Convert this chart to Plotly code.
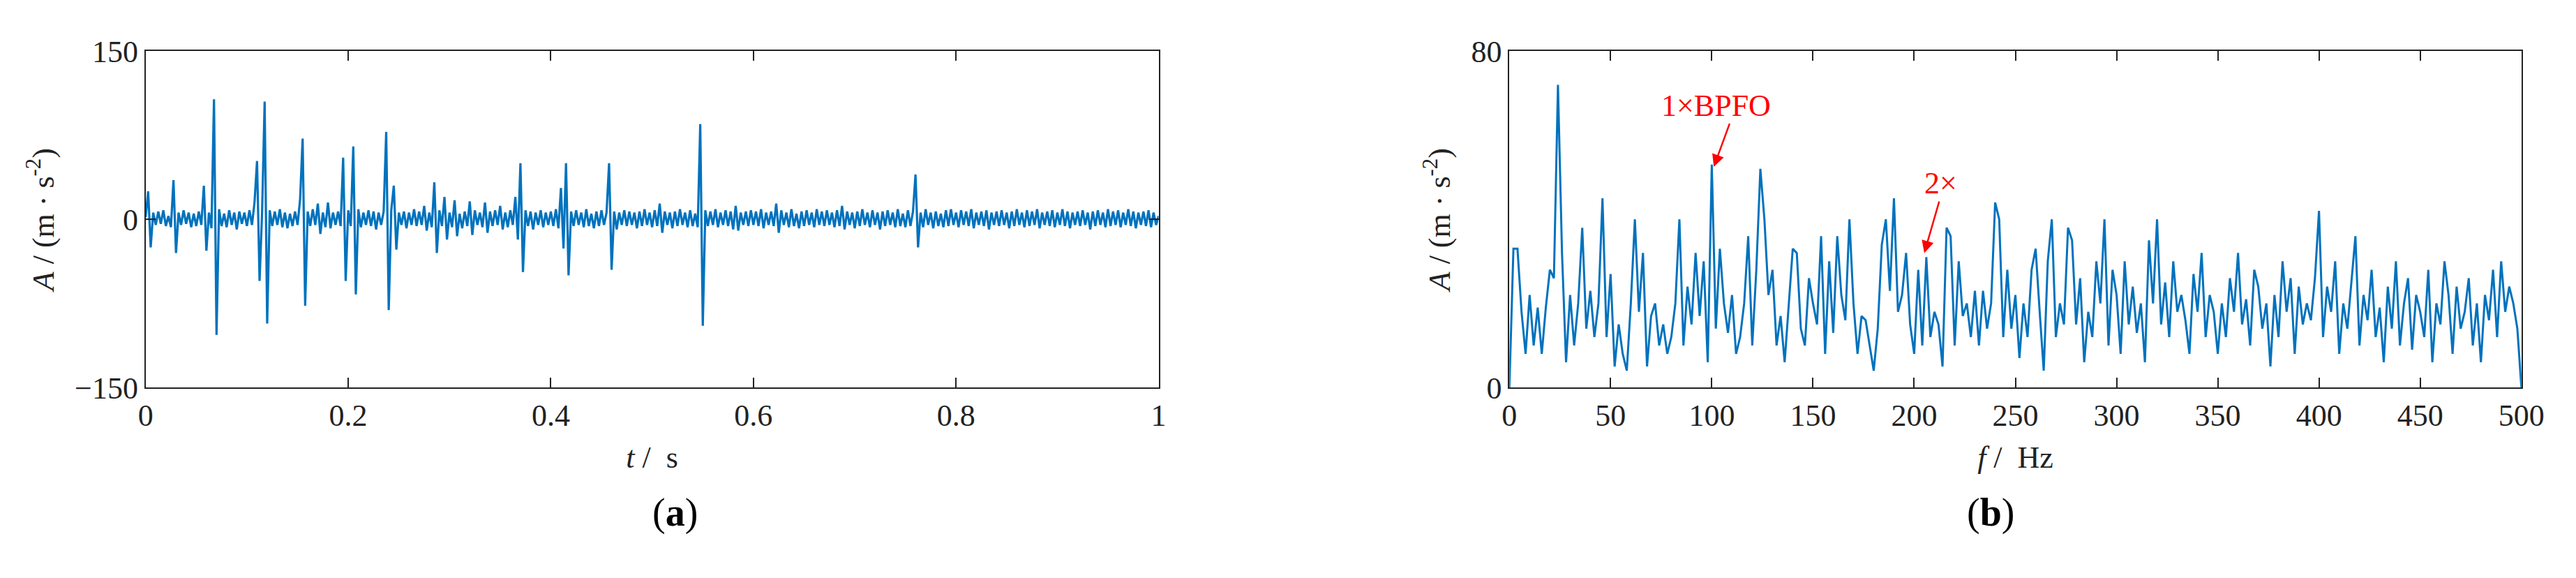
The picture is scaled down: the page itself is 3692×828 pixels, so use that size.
import numpy as np
import plotly.graph_objects as go

# (a) time-domain vibration signal, sampled every 2.5 ms
time_step = 0.0025
accel = [
    2, 25, -25, 6, -5, 7, -4, 8, -6, 3, -7, 35, -30, 6, -5, 8, -4, 6, -7, 5,
    -6, 7, -5, 30, -28, 6, -8, 107, -103, 9, -6, 5, -7, 8, -5, 6, -9, 7, -4, 6,
    -6, 8, -5, 15, 52, -55, 7, 105, -93, 8, -6, 7, -5, 9, -7, 6, -8, 5, -6, 7,
    -5, 18, 72, -77, 7, -6, 9, -5, 14, -13, 6, -7, 15, -8, 6, -5, 7, -6, 55, -55,
    8, -6, 65, -67, 9, -7, 6, -5, 8, -6, 7, -9, 6, -5, 7, 78, -81, 8, 30, -27,
    6, -5, 7, -8, 6, -5, 9, -6, 7, -5, 12, -10, 6, -7, 33, -30, 8, -6, 20, -18,
    6, -7, 17, -15, 5, -8, 7, -6, 16, -14, 8, -5, 6, -7, 15, -12, 7, -6, 8, -5,
    12, -9, 6, -7, 8, -5, 20, -18, 50, -47, 8, -6, 7, -9, 6, -5, 8, -7, 6, -5,
    7, -6, 9, -8, 28, -26, 50, -50, 7, -6, 8, -5, 6, -7, 9, -6, 5, -8, 7, -6,
    8, -5, 6, 50, -45, 7, -9, 6, -5, 8, -6, 7, -5, 6, -8, 7, -6, 9, -5, 6,
    -7, 8, -6, 14, -12, 7, -5, 6, -8, 7, -6, 9, -5, 6, -7, 8, -6, 5, -7, 85,
    -95, 8, -6, 7, -5, 9, -7, 6, -5, 8, -6, 7, -9, 12, -10, 6, -5, 7, -6, 8,
    -5, 7, -6, 9, -8, 6, -5, 7, -6, 14, -12, 8, -5, 6, -7, 9, -6, 5, -8, 7,
    -6, 8, -5, 6, -7, 9, -5, 7, -6, 8, -5, 6, -7, 8, -6, 12, -9, 7, -5, 6,
    -8, 7, -6, 9, -5, 6, -7, 8, -5, 6, -9, 7, -6, 8, -5, 6, -7, 9, -6, 5,
    -7, 8, -6, 7, 40, -25, 6, -7, 9, -5, 6, -8, 7, -6, 5, -7, 8, -6, 9, -5,
    6, -7, 8, -5, 7, -6, 9, -8, 6, -5, 7, -6, 8, -9, 6, -5, 7, -6, 8, -5,
    6, -8, 7, -6, 9, -5, 6, -7, 8, -6, 7, -5, 9, -8, 6, -5, 7, -6, 8, -7,
    6, -5, 9, -6, 7, -8, 6, -5, 7, -6, 8, -5, 6, -9, 7, -6, 8, -5, 6, -7,
    9, -6, 7, -5, 8, -7, 6, -5, 9, -6, 7, -8, 6, -5, 7, -6, 8, -7, 6, -5,
    3,
]

# (b) envelope spectrum, 2 Hz bins
freq_step = 2
spectrum = [
    0, 33, 33, 18, 8, 22, 10, 19, 8, 19, 28, 26, 72, 32, 6, 22, 10, 20, 38, 14, 23, 12, 20, 45, 12,
    27, 5, 15, 8, 4, 20, 40, 18, 32, 5, 17, 20, 10, 15, 8, 12, 20, 40, 10, 24, 15, 32, 17, 30, 6,
    53, 14, 33, 20, 13, 22, 8, 12, 20, 36, 10, 28, 52, 40, 22, 28, 10, 17, 6, 20, 33, 32, 14, 10, 26,
    20, 15, 36, 8, 30, 13, 36, 22, 16, 40, 20, 8, 17, 16, 10, 4, 14, 34, 40, 23, 45, 18, 22, 32, 15,
    8, 28, 10, 31, 12, 18, 15, 5, 38, 36, 10, 30, 17, 20, 12, 23, 10, 23, 14, 20, 44, 40, 12, 28, 14,
    22, 7, 20, 12, 28, 33, 18, 4, 30, 40, 12, 20, 15, 38, 35, 15, 26, 6, 18, 12, 30, 20, 40, 10, 28,
    22, 8, 30, 15, 24, 13, 20, 6, 35, 20, 40, 15, 25, 12, 30, 18, 22, 16, 8, 27, 18, 32, 12, 22, 18,
    8, 20, 12, 26, 18, 32, 15, 21, 10, 28, 24, 14, 20, 5, 22, 12, 30, 18, 26, 8, 24, 15, 20, 16, 26,
    42, 12, 24, 18, 30, 8, 20, 14, 25, 36, 10, 22, 16, 28, 12, 19, 6, 24, 14, 30, 10, 20, 26, 9, 22,
    18, 12, 28, 6, 20, 15, 30, 22, 8, 24, 14, 18, 26, 10, 20, 6, 22, 16, 28, 12, 30, 18, 24, 20, 14,
    0,
]

t = np.arange(len(accel)) * time_step
f = np.arange(len(spectrum)) * freq_step

BLUE = "#0072BD"
FONT = "Liberation Serif"
INK = "#222"

fig = go.Figure()
fig.add_trace(go.Scatter(x=t, y=accel, mode="lines", line=dict(color=BLUE, width=3.2),
                         xaxis="x", yaxis="y", showlegend=False))
fig.add_trace(go.Scatter(x=f, y=spectrum, mode="lines", line=dict(color=BLUE, width=3),
                         xaxis="x2", yaxis="y2", showlegend=False))

axis_style = dict(showline=True, mirror="ticks", linecolor=INK, linewidth=2,
                  ticks="inside", ticklen=14, tickwidth=2, tickcolor=INK,
                  showgrid=False, zeroline=False,
                  tickfont=dict(family=FONT, size=44, color=INK),
                  title_font=dict(family=FONT, size=44, color=INK))

fig.update_layout(
    width=3692, height=828,
    margin=dict(l=0, r=0, t=0, b=0),
    plot_bgcolor="white", paper_bgcolor="white",
    xaxis=dict(domain=[0.052, 0.450], range=[0, 1], tickvals=[0, 0.2, 0.4, 0.6, 0.8, 1],
               ticktext=["0", "0.2", "0.4", "0.6", "0.8", "1"],
               title_text="<i>t</i> /  s", title_standoff=20, anchor="y", **axis_style),
    yaxis=dict(domain=[0.3285, 0.947], range=[-150, 150], tickvals=[-150, 0, 150],
               title_text="<i>A</i> / (m · s<sup>-2</sup>)", title_standoff=16, anchor="x", **axis_style),
    xaxis2=dict(domain=[0.5878, 0.9854], range=[0, 500], dtick=50,
                title_text="<i>f</i> /  Hz", title_standoff=20, anchor="y2", **axis_style),
    yaxis2=dict(domain=[0.3285, 0.947], range=[0, 80], tickvals=[0, 80],
                title_text="<i>A</i> / (m · s<sup>-2</sup>)", title_standoff=16, anchor="x2", **axis_style),
)

arrow = dict(xref="x2", yref="y2", axref="x2", ayref="y2", showarrow=True, text="",
             arrowhead=2, arrowsize=1.4, arrowwidth=2.5, arrowcolor="red")
fig.add_annotation(x=101, y=52.5, ax=109, ay=63, **arrow)
fig.add_annotation(x=102, y=67, xref="x2", yref="y2", text="1×BPFO", showarrow=False,
                   font=dict(family=FONT, size=44, color="red"))
fig.add_annotation(x=205, y=32, ax=212.5, ay=44.5, **arrow)
fig.add_annotation(x=213, y=48.5, xref="x2", yref="y2", text="2×", showarrow=False,
                   font=dict(family=FONT, size=44, color="red"))

label_y = 0.055
fig.add_annotation(x=0.2506, y=label_y, xref="paper", yref="paper", text="(<b>a</b>)",
                   showarrow=False, font=dict(family=FONT, size=56, color="black"))
fig.add_annotation(x=0.7866, y=label_y, xref="paper", yref="paper", text="(<b>b</b>)",
                   showarrow=False, font=dict(family=FONT, size=56, color="black"))

fig.write_html("out.html")
